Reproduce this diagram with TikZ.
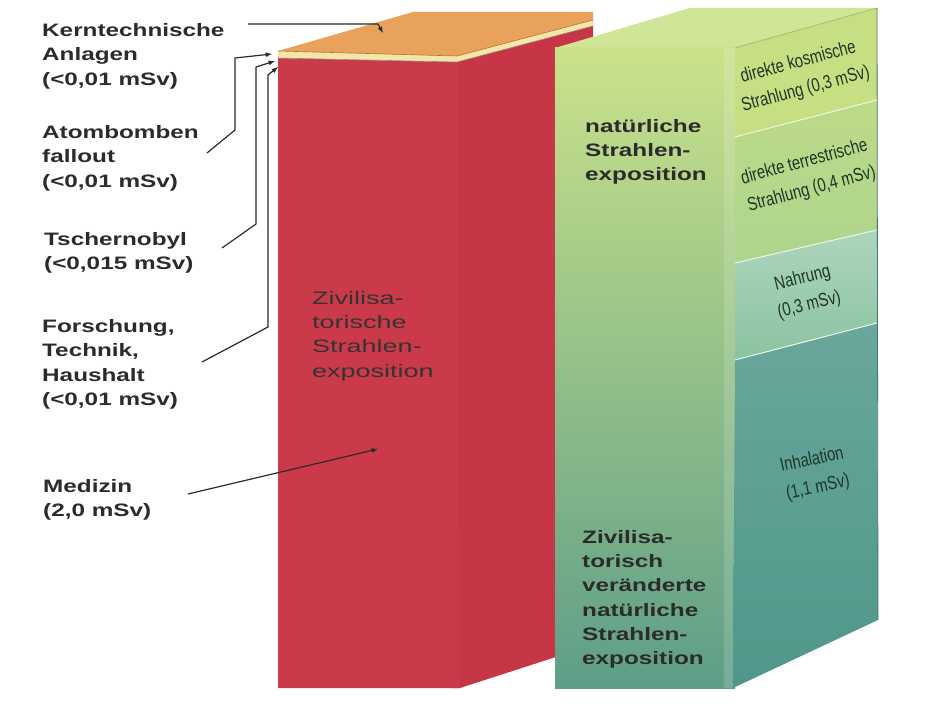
\documentclass[tikz,border=0pt]{standalone}
\usepackage{fontspec}
\setmainfont{Liberation Sans}
\newfontfamily\breitfont[FakeStretch=1.35]{Liberation Sans}
\newfontfamily\rotfont[FakeStretch=1.5]{Liberation Sans}
\newfontfamily\schmalfont[FakeStretch=0.78]{Liberation Sans}
\usepackage{tikz}
\tikzset{>=latex}

\definecolor{rotvorn}{HTML}{CB3A4A}
\definecolor{rotseite}{HTML}{C63646}
\definecolor{orangedach}{HTML}{E9A25C}
\definecolor{cremestreif}{HTML}{F5E6A6}
\definecolor{gruendach}{HTML}{D0E697}
\definecolor{gruenhell}{HTML}{CAE28A}
\definecolor{gruenmitte}{HTML}{A3CF8E}
\definecolor{gruendunkel}{HTML}{5E9E88}
\definecolor{seiteA}{HTML}{C6DF82}
\definecolor{seiteB}{HTML}{ADD48E}
\definecolor{seiteC}{HTML}{8AC3A0}
\definecolor{seiteD}{HTML}{4F978A}
\definecolor{schrift}{HTML}{2B2B2B}
\definecolor{gruenschrift}{HTML}{1F3528}

\tikzset{
  beschrift/.style={anchor=north west, inner sep=0pt, align=left, text=schrift,
    font=\breitfont\bfseries\fontsize{18}{24.5}\selectfont},
  blocktext/.style={anchor=north west, inner sep=0pt, align=left, text=schrift,
    font=\breitfont\bfseries\fontsize{18}{24.3}\selectfont},
  rottext/.style={anchor=north west, inner sep=0pt, align=left, text=black!80,
    font=\rotfont\fontsize{18}{24.3}\selectfont},
  seitentext/.style={inner sep=0pt, align=center, text=gruenschrift,
    font=\schmalfont\fontsize{19}{28}\selectfont},
  pfeil/.style={draw=schrift, line width=1.2pt, ->},
  kante/.style={draw=black!45, line width=0.6pt}
}

\begin{document}
\begin{tikzpicture}[x=1pt,y=-1pt]
  \useasboundingbox (0,0) rectangle (930,703);
  \fill[white] (0,0) rectangle (930,703);

  % 红色柱体 (人为照射)
  \fill[rotseite] (450,64) -- (593,20) -- (593,645) -- (460,688) -- (450,688) -- cycle;
  \fill[rotvorn] (278,58) -- (457,62) -- (460,688) -- (278,688) -- cycle;
  \fill[orangedach] (278,51) -- (413,12) -- (593,12) -- (593,20) -- (457,56) -- cycle;
  \fill[cremestreif] (278,51) -- (457,56) -- (593,20) -- (593,26) -- (457,62) -- (278,58) -- cycle;
  \draw[kante] (278,58) -- (457,62) -- (593,26);
  \draw[draw=orangedach!70!black, line width=0.6pt] (278,51) -- (457,56) -- (593,20);

  % 绿色柱体 (天然照射)
  \fill[gruendach] (555,48) -- (690,8) -- (877,8) -- (735,48) -- cycle;
  \shade
       [
        top color=gruenhell,   % 上面浅绿
        middle color=gruenmitte,
        bottom color=gruendunkel % 下面深绿
       ]
       (555,48) rectangle (735,688);
  \fill[white, opacity=0.15] (724,48) rectangle (735,688);
  \fill[seiteA] (735,48) -- (877,8) -- (877,100) -- (735,137) -- cycle;
  \shade[top color=seiteA!60!seiteB, bottom color=seiteB] (735,137) -- (877,100) -- (877,230) -- (735,263) -- cycle;
  \shade[top color=seiteC!70!white, bottom color=seiteC] (735,263) -- (877,230) -- (877,323) -- (735,360) -- cycle;
  \shade[top color=seiteD!85!white, bottom color=seiteD] (735,360) -- (877,323) -- (878,620) -- (733,688) -- cycle;
  \foreach \ya/\yb in {137/100,263/230,360/323}
    \draw[white!80!seiteB, line width=1pt] (735,\ya) -- (877,\yb);
  \draw[draw=seiteD!80!black, line width=0.8pt] (877,8) -- (878,620);
  \draw[draw=seiteA!75!black, line width=0.5pt] (735,48) -- (877,8);

  % 柱体上的文字
  \node[rottext] (zivrot) at (312,291) {Zivilisa-\\torische\\Strahlen-\\exposition};
  \node[blocktext] (natur) at (585,119) {natürliche\\Strahlen-\\exposition};
  \node[blocktext] (zivgruen) at (582,530) {Zivilisa-\\torisch\\veränderte\\natürliche\\Strahlen-\\exposition};
  \node[seitentext, rotate=15] (kosmisch) at (802,76) {direkte kosmische\\Strahlung (0,3 mSv)};
  \node[seitentext, rotate=15] (terrestrisch) at (808,176) {direkte terrestrische\\Strahlung (0,4 mSv)};
  \node[seitentext, rotate=14] (nahrung) at (806,292) {Nahrung\\(0,3 mSv)};
  \node[seitentext, rotate=12] (inhalation) at (815,474) {Inhalation\\(1,1 mSv)};

  % 左边的说明
  \node[beschrift] (kern) at (42,23) {Kerntechnische\\Anlagen\\(<0,01 mSv)};
  \node[beschrift] (atom) at (42,125) {Atombomben\\fallout\\(<0,01 mSv)};
  \node[beschrift] (tscher) at (44,232) {Tschernobyl\\(<0,015 mSv)};
  \node[beschrift] (forsch) at (42,319) {Forschung,\\Technik,\\Haushalt\\(<0,01 mSv)};
  \node[beschrift] (medizin) at (43,479) {Medizin\\(2,0 mSv)};

  % 连线的端点
  \coordinate (kernA) at (248,24);  \coordinate (kernK) at (378,24);  \coordinate (kernZ) at (383,33);
  \coordinate (atomA) at (207,153); \coordinate (atomK) at (235,130); \coordinate (atomL) at (235,58);  \coordinate (atomZ) at (272,54);
  \coordinate (tschA) at (222,248); \coordinate (tschK) at (256,224); \coordinate (tschL) at (256,67);  \coordinate (tschZ) at (275,61);
  \coordinate (forsA) at (202,362); \coordinate (forsK) at (268,327); \coordinate (forsL) at (268,75);  \coordinate (forsZ) at (278,67);
  \coordinate (mediA) at (188,494); \coordinate (mediZ) at (378,449);

  % 连线
  \draw[pfeil] (kernA) -- (kernK) -- (kernZ);
  \draw[pfeil] (atomA) -- (atomK) -- (atomL) -- (atomZ);
  \draw[pfeil] (tschA) -- (tschK) -- (tschL) -- (tschZ);
  \draw[pfeil] (forsA) -- (forsK) -- (forsL) -- (forsZ);
  \draw[pfeil] (mediA) -- (mediZ);
\end{tikzpicture}
\end{document}
